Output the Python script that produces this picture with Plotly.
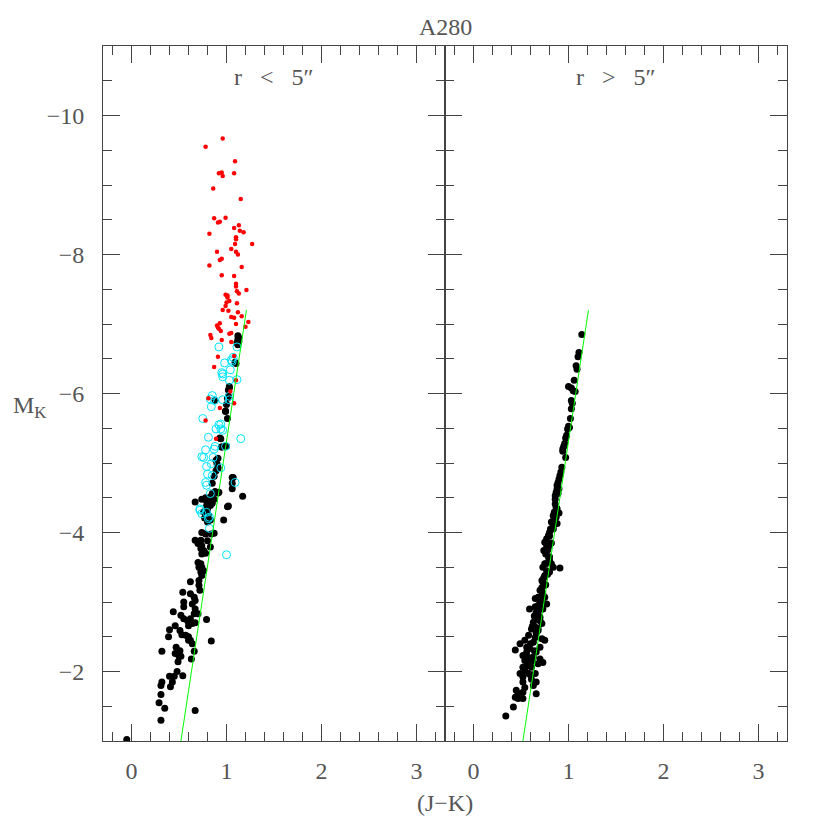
import plotly.graph_objects as go
from plotly.subplots import make_subplots

# ---- data: (J-K) colour and absolute K magnitude ----
left_black_jk = [1.12, 1.13, 1.12, 1.13, 1.11, 1.12, 1.10, 1.09, 1.03, 1.02, 1.03, 1.02, 1.01,
                 0.88, 1.00, 0.99, 1.01, 0.94, 0.95, 1.00, 0.91, 0.91, 0.89, 0.87, 0.85, 1.07,
                 1.06, 1.17, 1.01, 0.91, 0.85, 0.83, 0.78, 0.79, 0.81, 0.83, 0.80, 0.78, 0.81,
                 0.77, 0.83, 0.80, 0.76, 0.79, 0.67, 0.97, 0.74, 0.78, 0.84, 0.87, 0.67, 0.73,
                 0.80, 0.70, 0.74, 0.73, 0.76, 0.78, 0.74, 0.83, 0.70, 0.73, 0.71, 0.74, 0.76,
                 0.73, 0.74, 0.71, 0.62, 0.71, 0.72, 0.54, 0.62, 0.66, 0.67, 0.64, 0.55, 0.55,
                 0.44, 0.67, 0.70, 0.66, 0.52, 0.55, 0.59, 0.62, 0.64, 0.67, 0.60, 0.79, 0.40,
                 0.46, 0.51, 0.53, 0.57, 0.60, 0.62, 0.64, 0.60, 0.39, 0.84, 0.32, 0.47, 0.51,
                 0.46, 0.50, 0.52, 0.66, 0.63, 0.49, 0.48, 0.54, 0.40, 0.45, 0.43, 0.41, 0.32,
                 0.31, 0.31, 0.29, 0.35, 0.67, 0.31, -0.05, 0.74, 0.82, 0.85, 0.87, 0.88, 0.92,
                 1.06, 1.06, 1.02, 0.90, 0.91, 0.89, 0.95, 0.98, 0.93, 0.99]
left_black_mk = [-6.83, -6.80, -6.78, -6.75, -6.73, -6.70, -6.43, -6.45, -6.10, -6.05, -6.08, -5.96, -5.93,
                 -5.90, -5.84, -5.74, -5.64, -5.35, -5.23, -5.24, -5.07, -4.94, -4.89, -4.81, -4.71, -4.79,
                 -4.71, -4.52, -4.37, -4.57, -4.56, -4.51, -4.50, -4.45, -4.42, -4.39, -4.33, -4.26, -4.25,
                 -4.21, -4.18, -4.15, -4.30, -4.38, -4.44, -4.18, -4.00, -3.98, -3.98, -3.99, -3.89, -3.89,
                 -3.88, -3.84, -3.81, -3.77, -3.74, -3.70, -3.69, -3.79, -3.57, -3.55, -3.50, -3.50, -3.45,
                 -3.43, -3.38, -3.31, -3.29, -3.24, -3.17, -3.14, -3.12, -3.07, -3.02, -2.97, -3.00, -2.93,
                 -2.86, -2.90, -2.83, -2.83, -2.81, -2.76, -2.73, -2.76, -2.69, -2.70, -2.66, -2.75, -2.60,
                 -2.66, -2.59, -2.53, -2.52, -2.50, -2.45, -2.40, -2.45, -2.50, -2.44, -2.29, -2.35, -2.30,
                 -2.26, -2.22, -2.22, -2.29, -2.18, -2.14, -2.00, -1.94, -1.93, -1.93, -1.85, -1.78, -1.85,
                 -1.80, -1.67, -1.55, -1.47, -1.44, -1.30, -1.02, -4.48, -4.47, -4.42, -4.48, -4.59, -4.58,
                 -4.79, -4.63, -4.38, -4.99, -4.92, -5.04, -5.23, -5.24, -5.36, -5.75]

left_cyan_jk = [0.92, 1.11, 0.98, 1.06, 1.04, 0.95, 0.96, 1.03, 1.11, 0.85, 0.83, 0.84, 0.87,
                1.03, 1.03, 0.75, 0.94, 0.89, 0.96, 0.94, 1.15, 0.81, 0.88, 0.99, 0.78, 0.87,
                0.74, 0.76, 0.86, 0.79, 0.84, 0.94, 0.80, 0.85, 1.09, 0.78, 0.79, 0.83, 0.72,
                0.72, 0.74, 0.79, 0.81, 0.82, 0.82, 1.00, 1.07, 1.05, 0.96, 0.96, 0.92]
left_cyan_mk = [-6.67, -6.67, -6.44, -6.46, -6.34, -6.30, -6.28, -6.19, -6.20, -5.97, -5.92, -5.81, -5.90,
                -5.96, -5.91, -5.64, -5.56, -5.49, -5.47, -5.49, -5.35, -5.37, -5.24, -5.24, -5.19, -5.20,
                -5.09, -5.08, -5.08, -4.95, -4.99, -4.93, -4.84, -4.82, -4.72, -4.72, -4.68, -4.56, -4.34,
                -4.32, -4.27, -4.29, -4.20, -4.22, -4.06, -3.68, -6.52, -6.48, -6.24, -5.91, -5.55]

left_red_jk = [0.96, 0.78, 1.09, 0.92, 0.95, 0.96, 1.08, 0.86, 1.15, 0.87, 0.99, 0.91, 0.93,
               1.13, 1.08, 1.14, 1.18, 0.82, 1.10, 1.10, 1.27, 1.09, 1.05, 0.90, 1.10, 1.12,
               0.95, 0.93, 0.82, 1.16, 0.95, 1.08, 1.10, 1.10, 1.21, 1.11, 1.13, 0.99, 1.01,
               1.01, 1.03, 1.00, 1.11, 0.99, 0.96, 1.02, 1.12, 1.05, 1.08, 1.16, 1.23, 0.93,
               1.10, 0.90, 1.20, 0.92, 0.91, 0.94, 0.83, 0.84, 0.95, 1.03, 1.05, 1.05, 1.08,
               0.91, 0.87, 1.10, 1.04, 0.81, 0.93, 1.08, 0.78, 0.89]
left_red_mk = [-9.67, -9.55, -9.34, -9.17, -9.18, -9.13, -9.17, -8.95, -8.80, -8.52, -8.53, -8.46, -8.47,
               -8.42, -8.38, -8.34, -8.32, -8.30, -8.25, -8.22, -8.15, -8.15, -8.08, -8.04, -8.04, -8.00,
               -7.94, -7.92, -7.84, -7.82, -7.70, -7.69, -7.58, -7.54, -7.49, -7.47, -7.44, -7.42, -7.41,
               -7.38, -7.33, -7.31, -7.30, -7.26, -7.20, -7.19, -7.17, -7.10, -7.09, -7.11, -7.03, -7.01,
               -7.00, -6.98, -6.96, -6.93, -6.95, -6.90, -6.84, -6.80, -6.77, -6.86, -6.87, -6.74, -6.54,
               -6.53, -6.38, -6.19, -6.03, -5.93, -5.79, -5.86, -5.61, -5.35]

right_black_jk = [1.14, 1.11, 1.10, 1.08, 1.09, 1.06, 1.00, 1.03, 1.05, 1.07, 1.03, 1.04, 1.03,
                  1.02, 1.00, 1.01, 0.99, 0.98, 0.97, 0.96, 0.95, 0.94, 0.94, 0.97, 0.93, 0.92,
                  0.91, 0.90, 0.89, 0.88, 0.88, 0.87, 0.86, 0.86, 0.89, 0.90, 0.86, 0.87, 0.85,
                  0.90, 0.84, 0.87, 0.88,
                  0.84, 0.86, 0.88, 0.84, 0.81, 0.80, 0.79, 0.77, 0.75, 0.77, 0.79, 0.74, 0.76,
                  0.79, 0.80, 0.82, 0.75, 0.73, 0.77, 0.84, 0.91, 0.80, 0.75, 0.72, 0.73, 0.75,
                  0.72, 0.70, 0.73, 0.68, 0.75, 0.65, 0.72, 0.77, 0.70, 0.65, 0.73, 0.59, 0.68,
                  0.66, 0.70, 0.63, 0.72, 0.65, 0.61, 0.68, 0.58, 0.65, 0.72, 0.75, 0.54, 0.63,
                  0.49, 0.70, 0.59, 0.66, 0.44, 0.56, 0.52, 0.63, 0.70, 0.54, 0.59, 0.68, 0.73,
                  0.52, 0.61, 0.54, 0.49, 0.58, 0.65, 0.52, 0.61, 0.66, 0.52, 0.54, 0.63, 0.45,
                  0.52, 0.47, 0.66, 0.44, 0.47, 0.52, 0.42, 0.34,
                  0.80, 0.82, 0.78, 0.80, 0.76, 0.78, 0.74, 0.72, 0.70, 0.68, 0.66, 0.70, 0.64,
                  0.62, 0.66, 0.60, 0.64, 0.58, 0.62, 0.56, 0.60, 0.82, 0.84, 0.76, 0.72, 0.68,
                  0.56]
right_black_mk = [-6.85, -6.59, -6.53, -6.40, -6.35, -6.19, -6.10, -6.08, -6.04, -6.03, -5.90, -5.86, -5.78,
                  -5.64, -5.53, -5.51, -5.49, -5.40, -5.36, -5.28, -5.24, -5.20, -5.17, -5.08, -4.94, -4.87,
                  -4.82, -4.77, -4.72, -4.68, -4.63, -4.58, -4.53, -4.48, -4.56, -4.63, -4.41, -4.36, -4.29,
                  -4.28, -4.24, -4.22, -4.34,
                  -4.24, -4.22, -4.13, -4.10, -4.05, -4.00, -3.96, -3.91, -3.86, -3.81, -3.79, -3.74, -3.69,
                  -3.64, -3.60, -3.55, -3.55, -3.50, -3.45, -3.50, -3.49, -3.43, -3.38, -3.31, -3.29, -3.24,
                  -3.21, -3.17, -3.12, -3.07, -3.07, -3.05, -3.02, -2.97, -2.93, -2.93, -2.90, -2.90, -2.83,
                  -2.76, -2.73, -2.71, -2.69, -2.64, -2.61, -2.59, -2.52, -2.49, -2.47, -2.45, -2.45, -2.42,
                  -2.40, -2.35, -2.33, -2.28, -2.31, -2.28, -2.23, -2.21, -2.18, -2.16, -2.13, -2.11, -2.13,
                  -2.06, -2.06, -2.01, -1.97, -1.97, -1.97, -1.92, -1.89, -1.85, -1.85, -1.77, -1.80, -1.73,
                  -1.70, -1.68, -1.68, -1.63, -1.61, -1.61, -1.49, -1.36,
                  -3.95, -3.85, -3.75, -3.65, -3.55, -3.40, -3.35, -3.15, -3.00, -2.95, -2.85, -2.78, -2.80,
                  -2.65, -2.55, -2.40, -2.30, -2.20, -2.15, -2.08, -1.95, -4.15, -4.05, -3.25, -2.90, -2.62,
                  -2.35]

# fitted relation drawn in both panels
fit_jk = [0.52, 1.21]
fit_mk = [-1.0, -7.2]

y_ticks = [-2, -4, -6, -8, -10]
y_labels = ["\u22122", "\u22124", "\u22126", "\u22128", "\u221210"]
x_ticks = [0, 1, 2, 3]
x_labels = ["0", "1", "2", "3"]

FONT = "Liberation Serif"
AXIS = "#444444"
TXT = "#555555"

fig = make_subplots(rows=1, cols=2, shared_yaxes=True, horizontal_spacing=0)

for col, groups in ((1, [("black", left_black_jk, left_black_mk),
                         ("cyan", left_cyan_jk, left_cyan_mk),
                         ("red", left_red_jk, left_red_mk)]),
                    (2, [("black", right_black_jk, right_black_mk)])):
    for kind, xs, ys in groups:
        if kind == "black":
            mk = dict(color="black", size=7, symbol="circle", line=dict(width=0))
        elif kind == "cyan":
            mk = dict(color="#00e5ff", size=8, symbol="circle-open", line=dict(width=1))
        else:
            mk = dict(color="#ff0000", size=4.5, symbol="circle", line=dict(width=0))
        fig.add_trace(go.Scatter(x=xs, y=ys, mode="markers", marker=mk,
                                 showlegend=False, hoverinfo="skip"), row=1, col=col)
    fig.add_trace(go.Scatter(x=fit_jk, y=fit_mk, mode="lines",
                             line=dict(color="#00ff00", width=1),
                             showlegend=False, hoverinfo="skip"), row=1, col=col)

fig.update_xaxes(range=[-0.3, 3.3], tickvals=x_ticks, ticktext=x_labels,
                 ticks="inside", ticklen=17, tickwidth=1, tickcolor=AXIS,
                 minor=dict(dtick=0.2, ticks="inside", ticklen=9, tickcolor=AXIS, tickwidth=1),
                 showline=True, linecolor=AXIS, linewidth=1, mirror="ticks",
                 showgrid=False, zeroline=False, ticklabelstandoff=8,
                 tickfont=dict(family=FONT, size=24, color=TXT))

fig.update_yaxes(range=[-1, -11], tickvals=y_ticks, ticktext=y_labels,
                 ticks="inside", ticklen=17, tickwidth=1, tickcolor=AXIS,
                 minor=dict(dtick=0.5, ticks="inside", ticklen=9, tickcolor=AXIS, tickwidth=1),
                 showline=True, linecolor=AXIS, linewidth=1, mirror="ticks",
                 showgrid=False, zeroline=False, ticklabelstandoff=13,
                 tickfont=dict(family=FONT, size=24, color=TXT))
fig.update_yaxes(showticklabels=False, row=1, col=2)

ann = dict(showarrow=False, xref="paper", yref="paper", xanchor="center", yanchor="middle",
           font=dict(family=FONT, size=24, color=TXT))
fig.add_annotation(text="A280", x=0.5, y=1.027, **ann)
fig.add_annotation(text="r \u2002<\u2002 5\u2033", x=0.25, y=0.955, **ann)
fig.add_annotation(text="r \u2002>\u2002 5\u2033", x=0.75, y=0.955, **ann)
fig.add_annotation(text="(J\u2212K)", x=0.5, y=-0.089, **ann)
ann_left = dict(ann, xanchor="left")
fig.add_annotation(text="M<sub>K</sub>", x=-0.135, y=0.48, **ann_left)

# page body has an 8px margin, so the figure is drawn 8px in from the corner
fig.update_layout(width=822, height=822,
                  margin=dict(l=95, r=43, t=38, b=89),
                  plot_bgcolor="white", paper_bgcolor="white")

fig.write_html("out.html")
